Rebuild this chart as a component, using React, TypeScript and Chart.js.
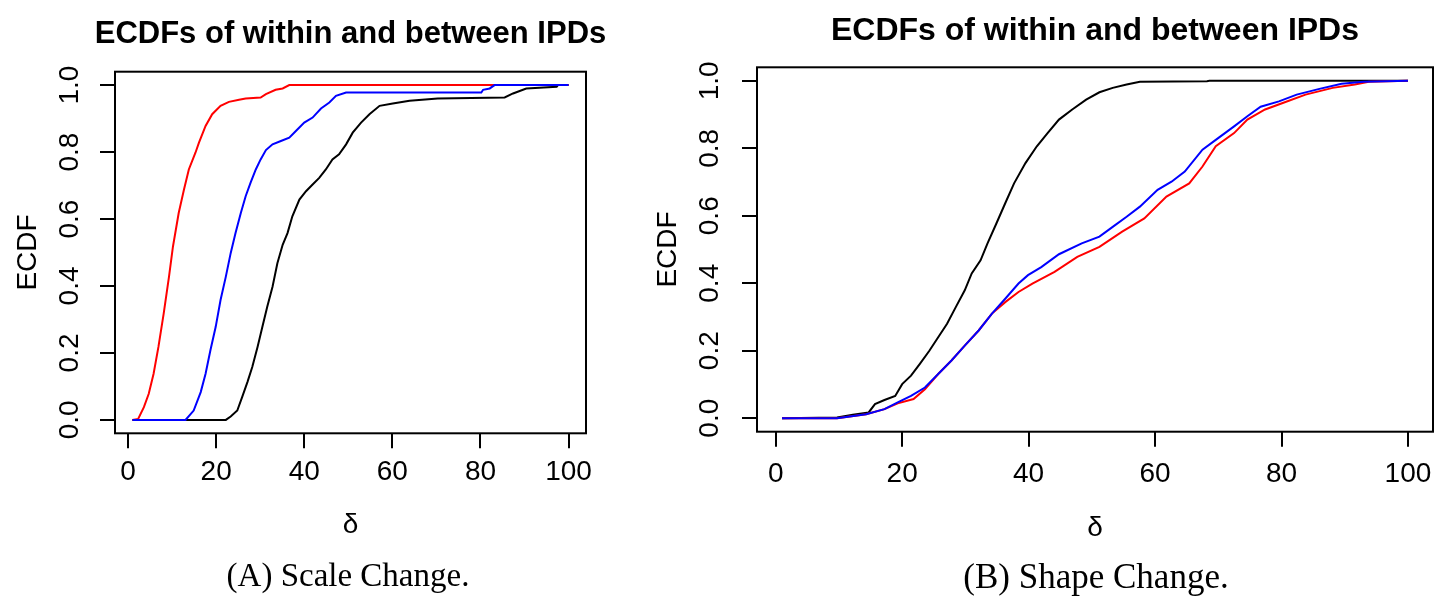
import React, { useEffect, useRef } from "react";
import { Chart, registerables } from "chart.js";

Chart.register(...registerables);

// Axis tick values (shared by both panels)
const deltaTicks = [0, 20, 40, 60, 80, 100];
const ecdfTicks = [0, 0.2, 0.4, 0.6, 0.8, 1.0];

// (A) Scale Change — red curve
const scaleRedDelta = [1, 2.3, 3.6, 4.7, 5.8, 6.9, 8.1, 9.3, 10.2, 11.5, 12.7, 13.8, 15.3, 16.1, 17.6, 19.1, 21.0, 22.9, 25.2, 26.7, 30.1, 31.3, 33.5, 35.1, 36.6, 100];
const scaleRedEcdf = [0, 0.003, 0.038, 0.078, 0.138, 0.218, 0.318, 0.428, 0.518, 0.618, 0.688, 0.748, 0.798, 0.828, 0.878, 0.913, 0.938, 0.95, 0.956, 0.96, 0.963, 0.973, 0.986, 0.99, 1, 1];

// (A) Scale Change — blue curve
const scaleBlueDelta = [1, 13.05, 14.9, 16.5, 17.6, 18.7, 19.9, 21.0, 22.2, 23.3, 24.4, 25.6, 26.7, 27.8, 29.0, 30.1, 31.3, 32.8, 34.7, 36.6, 38.1, 40.0, 41.9, 43.8, 45.7, 47.2, 49.5, 80.2, 80.6, 82.1, 83.2, 100];
const scaleBlueEcdf = [0, 0, 0.028, 0.083, 0.138, 0.208, 0.278, 0.358, 0.428, 0.498, 0.558, 0.618, 0.668, 0.708, 0.748, 0.778, 0.806, 0.823, 0.833, 0.843, 0.863, 0.888, 0.903, 0.93, 0.948, 0.968, 0.978, 0.978, 0.986, 0.99, 1, 1];

// (A) Scale Change — black curve
const scaleBlackDelta = [1, 22.2, 23.3, 24.8, 25.9, 27.1, 28.2, 29.4, 30.5, 31.6, 32.8, 33.9, 35.1, 36.2, 37.3, 38.9, 40.4, 41.9, 43.4, 44.9, 46.4, 47.9, 49.5, 51.0, 52.9, 54.8, 57.1, 60.1, 63.9, 70.3, 85.5, 87.4, 90.4, 97.3, 97.6, 100];
const scaleBlackEcdf = [0, 0, 0.01, 0.028, 0.068, 0.113, 0.158, 0.218, 0.278, 0.338, 0.398, 0.468, 0.523, 0.558, 0.608, 0.658, 0.683, 0.703, 0.723, 0.748, 0.778, 0.793, 0.823, 0.858, 0.888, 0.913, 0.938, 0.945, 0.953, 0.96, 0.963, 0.975, 0.99, 0.995, 1, 1];

// (B) Shape Change — red curve
const shapeRedDelta = [1, 9.7, 14.3, 17.2, 19.3, 21.8, 23.6, 25.7, 27.8, 29.9, 32.1, 34.2, 36.3, 38.4, 40.6, 44.1, 47.7, 51.2, 54.8, 58.3, 61.8, 65.4, 67.5, 69.6, 72.5, 74.6, 77.4, 80.3, 83.8, 88.1, 91.6, 93.8, 100];
const shapeRedEcdf = [0, 0, 0.012, 0.027, 0.044, 0.057, 0.086, 0.131, 0.171, 0.215, 0.26, 0.31, 0.344, 0.374, 0.399, 0.434, 0.478, 0.508, 0.553, 0.592, 0.657, 0.696, 0.746, 0.806, 0.845, 0.885, 0.915, 0.935, 0.959, 0.979, 0.989, 0.997, 1];

// (B) Shape Change — blue curve
const shapeBlueDelta = [1, 9.7, 14.3, 17.2, 19.3, 21.4, 23.6, 25.7, 27.8, 29.9, 32.1, 34.2, 36.3, 38.4, 39.9, 42.0, 44.8, 48.4, 51.2, 53.3, 55.5, 57.6, 60.4, 62.6, 64.7, 67.5, 69.6, 72.5, 74.6, 76.7, 79.6, 82.4, 86.0, 89.5, 93.0, 100];
const shapeBlueEcdf = [0, 0, 0.012, 0.027, 0.047, 0.066, 0.091, 0.131, 0.171, 0.215, 0.26, 0.31, 0.354, 0.399, 0.424, 0.448, 0.486, 0.518, 0.538, 0.567, 0.597, 0.627, 0.677, 0.701, 0.731, 0.796, 0.825, 0.865, 0.895, 0.923, 0.939, 0.959, 0.976, 0.991, 0.997, 1];

// (B) Shape Change — black curve
const shapeBlackDelta = [1, 9.7, 12.2, 14.7, 15.7, 17.2, 18.9, 20.0, 21.4, 22.8, 24.3, 25.7, 27.1, 28.5, 29.9, 31.0, 32.4, 33.5, 34.9, 36.3, 37.7, 39.5, 41.3, 43.0, 44.8, 46.9, 49.1, 51.2, 53.3, 55.5, 57.6, 68.2, 68.6, 100];
const shapeBlackEcdf = [0, 0.002, 0.01, 0.017, 0.042, 0.054, 0.066, 0.101, 0.126, 0.161, 0.2, 0.24, 0.28, 0.33, 0.379, 0.429, 0.468, 0.518, 0.577, 0.637, 0.696, 0.756, 0.806, 0.845, 0.885, 0.915, 0.944, 0.966, 0.979, 0.989, 0.997, 0.999, 1, 1];

const SANS = '"Liberation Sans", Arial, Helvetica, sans-serif';
const SERIF = '"Liberation Serif", "Times New Roman", Times, serif';
const TITLE = "ECDFs of within and between IPDs";
const CANVAS_H = 609;

type Series = { xs: number[]; ys: number[]; color: string };

type PanelSpec = {
  left: number;
  width: number;
  padRight: number;
  padTop: number;
  yAxisWidth: number;
  xAxisHeight: number;
  titleSize: number;
  titleY: number;
  xTickPad: number;
  yTickPad: number;
  xTitlePad: number;
  yTitlePad: number;
  series: Series[];
};

const toPoints = (xs: number[], ys: number[]) => xs.map((x, i) => ({ x, y: ys[i] }));

// Frame around the plotting region, like R's box()
const plotBox = {
  id: "plotBox",
  afterDatasetsDraw(chart: any) {
    const { ctx, chartArea: a } = chart;
    ctx.save();
    ctx.strokeStyle = "#000";
    ctx.lineWidth = 2;
    ctx.strokeRect(a.left, a.top, a.right - a.left, a.bottom - a.top);
    ctx.restore();
  },
};

// Bold main title centred over the plotting region (free to run wider than it)
const panelTitle = {
  id: "panelTitle",
  afterDraw(chart: any, _args: any, opts: any) {
    const { ctx, chartArea: a } = chart;
    ctx.save();
    ctx.fillStyle = "#000";
    ctx.font = `bold ${opts.size}px ${SANS}`;
    ctx.textAlign = "center";
    ctx.textBaseline = "middle";
    ctx.fillText(opts.text, (a.left + a.right) / 2, opts.y);
    ctx.restore();
  },
};

// Blue is listed first so it is painted on top of red and black
const panelA: PanelSpec = {
  left: 0,
  width: 630,
  padRight: 44,
  padTop: 71.7,
  yAxisWidth: 115,
  xAxisHeight: CANVAS_H - 433.3,
  titleSize: 31,
  titleY: 34.1,
  xTickPad: 7.2,
  yTickPad: 10.2,
  xTitlePad: 66.7,
  yTitlePad: 11.5,
  series: [
    { xs: scaleBlueDelta, ys: scaleBlueEcdf, color: "#0000ff" },
    { xs: scaleRedDelta, ys: scaleRedEcdf, color: "#ff0000" },
    { xs: scaleBlackDelta, ys: scaleBlackEcdf, color: "#000000" },
  ],
};

const panelB: PanelSpec = {
  left: 630,
  width: 817,
  padRight: 14,
  padTop: 67.3,
  yAxisWidth: 127,
  xAxisHeight: CANVAS_H - 431.7,
  titleSize: 32,
  titleY: 30.9,
  xTickPad: 10.8,
  yTickPad: 12.7,
  xTitlePad: 63.7,
  yTitlePad: 21.5,
  series: [
    { xs: shapeBlueDelta, ys: shapeBlueEcdf, color: "#0000ff" },
    { xs: shapeRedDelta, ys: shapeRedEcdf, color: "#ff0000" },
    { xs: shapeBlackDelta, ys: shapeBlackEcdf, color: "#000000" },
  ],
};

function EcdfPanel({ spec }: { spec: PanelSpec }) {
  const ref = useRef<HTMLCanvasElement | null>(null);

  useEffect(() => {
    if (!ref.current) return;
    const axisGrid = {
      display: true,
      drawOnChartArea: false,
      drawTicks: true,
      tickLength: 15,
      color: "#000",
      lineWidth: 2,
    };
    const chart = new Chart(ref.current, {
      type: "line",
      data: {
        datasets: spec.series.map((s) => ({
          data: toPoints(s.xs, s.ys),
          borderColor: s.color,
          backgroundColor: s.color,
          borderWidth: 2,
          pointRadius: 0,
          fill: false,
          tension: 0,
        })),
      },
      options: {
        animation: false,
        responsive: false,
        devicePixelRatio: 1,
        events: [],
        layout: { padding: { left: 0, right: spec.padRight, top: spec.padTop, bottom: 0 } },
        plugins: {
          legend: { display: false },
          tooltip: { enabled: false },
          title: { display: false },
          panelTitle: { text: TITLE, size: spec.titleSize, y: spec.titleY },
        },
        scales: {
          x: {
            type: "linear",
            position: "bottom",
            min: -2.96,
            max: 103.96,
            bounds: "data",
            afterBuildTicks: (s: any) => {
              s.ticks = deltaTicks.map((v) => ({ value: v }));
            },
            afterFit: (s: any) => {
              s.height = spec.xAxisHeight;
            },
            grid: axisGrid,
            border: { display: false },
            ticks: {
              color: "#000",
              font: { family: SANS, size: 28 },
              padding: spec.xTickPad,
              minRotation: 0,
              maxRotation: 0,
              autoSkip: false,
              callback: (v: any) => String(v),
            },
            title: {
              display: true,
              text: "δ",
              color: "#000",
              font: { family: SANS, size: 28 },
              padding: { top: 0, bottom: spec.xTitlePad },
            },
          },
          y: {
            type: "linear",
            position: "left",
            min: -0.04,
            max: 1.04,
            bounds: "data",
            afterBuildTicks: (s: any) => {
              s.ticks = ecdfTicks.map((v) => ({ value: v }));
            },
            afterFit: (s: any) => {
              s.width = spec.yAxisWidth;
            },
            grid: axisGrid,
            border: { display: false },
            ticks: {
              color: "#000",
              font: { family: SANS, size: 28 },
              padding: spec.yTickPad,
              minRotation: 90,
              maxRotation: 90,
              crossAlign: "center",
              autoSkip: false,
              callback: (v: any) => Number(v).toFixed(1),
            },
            title: {
              display: true,
              text: "ECDF",
              color: "#000",
              font: { family: SANS, size: 28 },
              padding: { top: spec.yTitlePad, bottom: 0 },
            },
          },
        },
      } as any,
      plugins: [plotBox, panelTitle],
    });
    return () => chart.destroy();
  }, [spec]);

  return (
    <canvas
      ref={ref}
      width={spec.width}
      height={CANVAS_H}
      style={{ position: "absolute", left: spec.left, top: 0, width: spec.width, height: CANVAS_H }}
    />
  );
}

const captionStyle: React.CSSProperties = {
  position: "absolute",
  width: 500,
  textAlign: "center",
  fontFamily: SERIF,
  color: "#000",
  whiteSpace: "nowrap",
};

export default function App() {
  return (
    <div
      style={{
        position: "fixed",
        left: 0,
        top: 0,
        width: 1447,
        height: CANVAS_H,
        background: "#fff",
        overflow: "hidden",
      }}
    >
      <EcdfPanel spec={panelA} />
      <EcdfPanel spec={panelB} />
      <div style={{ ...captionStyle, left: 348 - 250, top: 559.4, fontSize: 33, lineHeight: "33px" }}>
        (A) Scale Change.
      </div>
      <div style={{ ...captionStyle, left: 1096 - 250, top: 558.7, fontSize: 35, lineHeight: "35px" }}>
        (B) Shape Change.
      </div>
    </div>
  );
}
